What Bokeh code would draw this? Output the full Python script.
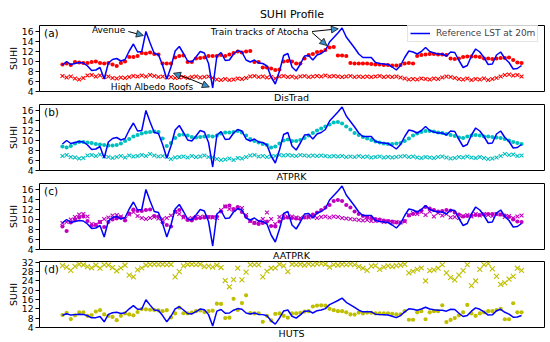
from bokeh.plotting import figure
from bokeh.layouts import column
from bokeh.models import Range1d, FixedTicker, Label, Arrow, NormalHead, Legend, LegendItem, Div
from bokeh.embed import file_html
from bokeh.resources import INLINE

# ---------------- data ----------------
ref_lst = [9.2, 9.9, 9.3, 9.5, 9.7, 9.6, 9.0, 8.1, 8.2, 8.7,
           6.4, 9.6, 10.3, 10.5, 10.0, 10.3, 12.0, 13.4, 11.8, 11.9,
           15.9, 13.6, 11.5, 11.3, 9.1, 6.4, 8.8, 12.0, 12.9, 11.5,
           10.0, 9.8, 10.8, 11.9, 11.6, 9.5, 4.6, 11.0, 11.7, 10.1,
           10.2, 11.4, 12.1, 11.8, 10.2, 9.8, 10.2, 9.6, 9.5, 9.0,
           6.8, 5.4, 8.0, 11.1, 11.5, 8.8, 8.0, 9.4, 11.0, 11.1,
           10.2, 11.2, 11.5, 12.1, 13.8, 14.7, 15.6, 16.6, 14.8, 13.7,
           12.6, 11.4, 10.7, 10.7, 10.7, 9.7, 9.5, 9.4, 9.3, 8.8,
           8.2, 9.1, 10.7, 12.0, 11.8, 11.4, 11.9, 12.7, 11.9, 11.6,
           11.4, 11.4, 11.0, 11.8, 11.7, 10.1, 8.7, 9.1, 11.0, 12.4,
           11.8, 10.7, 9.3, 9.4, 11.2, 11.8, 10.5, 9.7, 8.4, 8.5,
           9.1]

distrad_dots = [9.3, 9.5, 9.2, 9.8, 9.7, 9.6, 9.6, 9.8, 9.9, 9.6,
                9.5, 9.6, 9.3, 9.0, 9.6, 9.9, 10.8, 10.8, 11.0, 11.6,
                11.5, 11.7, 11.4, 11.3, 9.5, 9.5, 9.5, 10.7, 11.0, 11.1,
                9.8, 9.8, 10.5, 10.6, 10.7, 11.0, 11.0, 11.0, 11.2, 11.0,
                11.3, 11.6, 11.9, 11.7, 11.9, 12.0, 9.8, 9.8, 8.7, 8.7,
                8.5, 8.2, 8.3, 9.9, 10.0, 9.9, 9.5, 9.5, 10.5, 11.2,
                11.4, 11.8, 11.9, 12.2, 12.7, 12.8, 11.1, 11.1, 11.0, 9.6,
                9.5, 9.5, 9.5, 9.5, 9.4, 9.3, 9.3, 9.2, 9.2, 9.1,
                9.1, 9.2, 9.5, 9.6, 9.5, 11.0, 11.2, 11.3, 11.4, 11.4,
                11.3, 11.3, 11.2, 10.5, 10.4, 10.5, 10.8, 10.9, 10.9, 10.9,
                10.8, 10.5, 10.5, 10.4, 10.5, 10.6, 10.6, 10.7, 10.2, 9.7,
                9.6]

distrad_x = [7.0, 6.7, 6.9, 6.5, 6.3, 6.6, 7.1, 7.2, 6.9, 7.1,
             6.8, 6.9, 6.6, 6.5, 6.7, 6.6, 6.8, 7.0, 6.9, 7.1,
             6.9, 7.2, 7.0, 6.8, 6.9, 6.7, 6.8, 6.6, 6.7, 6.8,
             6.6, 6.8, 6.9, 6.7, 6.8, 6.9, 6.6, 6.3, 6.2, 6.4,
             6.2, 6.3, 6.5, 6.4, 6.6, 6.9, 7.0, 6.8, 6.9, 6.7,
             6.8, 6.5, 6.9, 7.0, 6.8, 6.9, 6.7, 6.9, 7.0, 6.8,
             6.9, 7.0, 6.9, 7.1, 6.9, 7.0, 6.9, 6.8, 6.9, 7.0,
             6.8, 6.9, 6.8, 6.9, 6.8, 6.9, 7.0, 6.8, 6.9, 6.8,
             6.9, 6.7, 6.5, 6.3, 6.4, 6.3, 6.5, 6.4, 6.3, 6.5,
             6.4, 6.7, 6.9, 6.8, 6.6, 6.4, 6.3, 6.5, 6.2, 6.4,
             6.3, 6.5, 6.2, 6.4, 6.6, 6.9, 7.2, 7.3, 7.1, 7.2,
             6.9]

atprk_dots = [8.7, 8.5, 8.8, 9.3, 9.6, 9.6, 9.5, 9.4, 9.2, 9.1,
              9.0, 8.9, 8.9, 9.0, 9.3, 9.8, 10.2, 10.7, 11.0, 11.3,
              11.5, 11.6, 11.7, 11.6, 10.3, 8.8, 9.4, 10.4, 11.0, 11.1,
              10.9, 10.6, 10.5, 10.6, 10.7, 10.8, 10.7, 10.9, 11.3, 11.5,
              11.5, 11.6, 11.8, 11.5, 10.9, 10.2, 9.8, 9.5, 9.2, 9.0,
              8.5, 8.7, 9.3, 9.9, 10.1, 9.8, 9.8, 10.0, 10.4, 10.9,
              11.4, 11.9, 12.3, 12.7, 13.1, 13.5, 13.6, 13.3, 12.7, 12.1,
              11.4, 11.0, 10.6, 10.3, 10.0, 9.7, 9.5, 9.3, 9.2, 9.2,
              9.3, 9.4, 9.8, 10.3, 10.9, 11.3, 11.6, 11.8, 11.8, 11.7,
              11.5, 11.4, 11.2, 11.0, 10.8, 10.5, 10.4, 10.7, 10.9, 11.0,
              10.9, 10.7, 10.7, 10.6, 10.5, 10.4, 10.2, 9.9, 9.6, 9.4,
              9.2]

atprk_x = [6.8, 7.0, 6.6, 6.5, 6.3, 6.4, 6.9, 7.0, 6.8, 7.1,
           6.7, 6.6, 6.4, 6.6, 6.8, 6.5, 6.9, 6.7, 6.8, 7.0,
           6.8, 7.2, 6.9, 6.7, 6.8, 6.6, 6.2, 6.5, 6.6, 6.7,
           6.5, 6.8, 6.6, 6.7, 6.9, 6.6, 6.5, 6.2, 6.0, 6.1,
           6.3, 6.0, 6.4, 6.3, 6.6, 6.9, 7.0, 6.7, 6.8, 6.6,
           6.7, 6.8, 7.0, 6.9, 7.0, 6.9, 6.8, 7.0, 6.9, 6.8,
           6.9, 6.8, 6.9, 6.8, 6.7, 6.8, 6.7, 6.8, 6.6, 6.7,
           6.6, 6.8, 6.6, 6.7, 6.5, 6.6, 6.7, 6.5, 6.6, 6.5,
           6.6, 6.7, 6.8, 6.6, 6.7, 6.5, 6.4, 6.6, 6.5, 6.4,
           6.6, 6.7, 6.5, 6.3, 6.4, 6.6, 6.5, 6.7, 6.5, 6.4,
           6.6, 6.4, 6.2, 6.3, 6.5, 6.8, 7.2, 7.0, 7.1, 6.8,
           6.9]

aatprk_dots = [8.5, 7.6, 9.3, 9.9, 10.3, 10.5, 9.6, 8.7, 8.8, 9.4,
               8.4, 9.4, 9.9, 10.1, 10.3, 9.7, 11.1, 11.9, 11.6, 11.6,
               11.8, 11.9, 10.6, 10.5, 9.3, 8.8, 8.5, 11.5, 11.8, 10.5,
               9.8, 9.7, 10.1, 10.2, 10.3, 10.4, 10.4, 10.5, 11.5, 12.5,
               12.7, 12.0, 12.4, 11.4, 10.5, 9.6, 9.2, 9.0, 9.2, 9.5,
               8.6, 8.5, 9.5, 10.2, 10.3, 10.2, 10.1, 10.0, 10.3, 10.5,
               10.9, 11.3, 11.8, 12.3, 12.8, 13.6, 13.8, 13.6, 12.8, 12.3,
               11.5, 11.0, 10.6, 10.4, 10.2, 10.0, 9.9, 9.7, 9.6, 9.5,
               9.3, 9.3, 9.6, 10.7, 11.0, 11.3, 11.7, 12.4, 12.1, 11.8,
               11.5, 11.6, 11.8, 11.7, 11.3, 10.9, 10.5, 10.6, 10.7, 10.8,
               10.8, 10.9, 11.0, 11.0, 11.0, 10.9, 10.7, 10.4, 9.9, 9.5,
               9.4]

aatprk_x = [9.2, 9.4, 9.9, 10.4, 10.9, 11.0, 10.5, 9.0, 8.9, 9.4,
            10.0, 10.3, 10.7, 10.8, 10.5, 10.0, 10.9, 11.4, 10.6, 10.2,
            10.0, 10.2, 10.4, 10.1, 10.0, 10.2, 10.7, 11.4, 11.0, 10.3,
            10.0, 10.2, 10.4, 10.4, 10.5, 10.4, 10.3, 10.2, 11.8, 12.5,
            12.0, 11.8, 12.1, 12.2, 10.8, 9.6, 9.3, 9.5, 10.0, 11.3,
            10.0, 9.0, 10.4, 10.6, 10.4, 10.5, 10.3, 10.2, 10.4, 10.3,
            10.5, 10.2, 10.4, 10.5, 10.3, 10.5, 10.4, 10.2, 10.1, 10.0,
            9.9, 9.8, 9.7, 9.8, 9.6, 9.6, 9.7, 9.4, 9.5, 9.3,
            9.4, 9.3, 9.5, 10.8, 11.2, 11.0, 11.4, 10.8, 11.5, 10.5,
            11.2, 10.7, 11.0, 10.3, 10.4, 10.2, 10.6, 10.8, 10.5, 11.0,
            10.7, 11.0, 10.8, 10.6, 11.0, 10.9, 10.4, 10.6, 10.2, 10.5,
            10.7]

huts_dots = [9.3, 10.3, 7.6, 9.2, 10.5, 10.5, 9.0, 9.3, 10.8, 11.4,
             9.6, 9.0, 8.5, 7.1, 9.0, 10.0, 9.6, 9.2, 10.6, 11.9,
             11.8, 11.6, 11.5, 11.3, 11.0, 11.4, 8.3, 10.0, 12.5, 10.1,
             10.0, 10.4, 11.0, 11.3, 10.6, 11.0, 11.2, 14.2, 14.1, 8.0,
             8.2, 16.3, 11.5, 14.5, 17.8, 10.2, 10.0, 10.1, 6.4, 9.0,
             7.0, 9.8, 10.0, 9.0, 8.2, 10.0, 10.0, 10.3, 10.8, 11.0,
             13.0, 13.4, 13.5, 13.4, 12.0, 11.4, 11.0, 11.0, 10.5, 9.6,
             9.5, 10.4, 10.0, 10.4, 10.3, 10.0, 10.0, 10.0, 10.1, 9.8,
             9.6, 9.6, 11.0, 7.3, 7.3, 10.5, 11.0, 7.5, 10.5, 11.0,
             11.0, 13.5, 6.3, 7.2, 8.0, 9.2, 10.5, 13.7, 10.0, 9.0,
             10.0, 10.5, 11.0, 11.0, 11.5, 12.0, 7.5, 7.5, 14.4, 10.5,
             10.5]

huts_x = [30.6, 30.0, 28.6, 30.3, 31.2, 30.9, 30.2, 29.7, 30.8, 29.5,
          31.0, 30.8, 29.8, 28.4, 29.6, 30.8, 26.5, 25.8, 28.8, 29.6,
          30.8, 31.1, 31.2, 31.1, 31.2, 31.0, 31.1, 25.8, 28.0, 30.5,
          31.1, 31.2, 31.0, 31.2, 30.2, 30.4, 30.0, 30.8, 29.8, 24.2,
          21.5, 24.6, 29.5, 24.5, 27.8, 31.0, 31.0, 31.0, 25.8, 28.2,
          29.5, 29.6, 31.2, 30.5, 28.0, 31.2, 31.0, 31.2, 30.8, 31.3,
          31.0, 31.4, 31.5, 31.2, 30.0, 31.0, 30.8, 31.2, 31.0, 31.3,
          31.0, 30.2, 29.5, 28.6, 30.4, 30.6, 29.0, 30.0, 30.5, 30.2,
          30.6, 30.8, 31.2, 27.5, 28.2, 29.0, 29.6, 24.0, 28.5, 28.8,
          29.5, 31.0, 27.5, 25.5, 24.5, 26.5, 28.5, 31.0, 22.0, 24.0,
          29.0, 31.0, 31.5, 29.2, 26.0, 22.5, 23.2, 24.8, 26.0, 29.5,
          28.6]

panel_names = ["DisTrad", "ATPRK", "AATPRK", "HUTS"]
panel_letters = ["(a)", "(b)", "(c)", "(d)"]
panel_colors = ["#ff0000", "#00bfbf", "#bf00bf", "#bfbf00"]
ticks_small = [4, 6, 8, 10, 12, 14, 16]
ticks_large = [4, 8, 12, 16, 20, 24, 28, 32]

FONT = "DejaVu Sans"
FRAME_H = 66
FRAME_W = 505
LEFT = 39
RIGHT = 5
X0, X1 = -5.5, 115.5


def idx(arr):
    return list(range(len(arr)))


def make_panel(k, dots, crosses, ylim, ticks, top_border, bottom_border, xsize):
    p = figure(frame_width=FRAME_W, frame_height=FRAME_H, output_backend="svg",
               toolbar_location=None, x_axis_location=None,
               x_range=Range1d(X0, X1), y_range=Range1d(*ylim),
               min_border_left=LEFT, min_border_right=RIGHT,
               min_border_top=top_border, min_border_bottom=bottom_border,
               background_fill_color="white", border_fill_alpha=0)
    p.grid.visible = False
    p.outline_line_color = "black"
    p.outline_line_width = 1
    p.outline_line_alpha = 1

    ya = p.yaxis[0]
    ya.ticker = FixedTicker(ticks=ticks)
    ya.axis_line_color = None
    ya.minor_tick_line_color = None
    ya.major_tick_in = 0
    ya.major_tick_out = 4
    ya.major_tick_line_color = "black"
    ya.major_label_standoff = 2
    ya.major_label_text_font = FONT
    ya.major_label_text_font_size = "9.2px"
    ya.major_label_text_color = "black"
    ya.axis_label = "SUHI"
    ya.axis_label_standoff = 0
    ya.axis_label_text_font = FONT
    ya.axis_label_text_font_size = "9.5px"
    ya.axis_label_text_font_style = "normal"
    ya.axis_label_text_color = "black"

    c = panel_colors[k]
    p.scatter(idx(crosses), crosses, marker="x", size=xsize, line_color=c,
              line_width=1.1)
    p.scatter(idx(dots), dots, marker="circle", size=4.2, fill_color=c,
              line_color=None)
    line_r = p.line(idx(ref_lst), ref_lst, line_color="#0000ff", line_width=1.5)

    per_px = (ylim[1] - ylim[0]) / FRAME_H
    p.add_layout(Label(x=-4.4, y=ylim[1] - 7.0 * per_px, text=panel_letters[k],
                       text_font=FONT, text_font_size="10.5px",
                       text_baseline="middle", text_color="black"))
    return p, line_r


def name_div(k, h, lh):
    return Div(text=panel_names[k], width=FRAME_W, height=h,
               margin=(0, RIGHT, 0, LEFT),
               styles={"font-family": FONT, "font-size": "9.5px",
                       "line-height": "%dpx" % lh, "text-align": "center",
                       "color": "black", "overflow": "visible",
                       "white-space": "nowrap"})


def ann_text(p, x, y, t):
    p.add_layout(Label(x=x, y=y, text=t, text_font=FONT, text_font_size="9px",
                       text_baseline="middle", text_color="black"))


def ann_arrow(p, x0, y0, x1, y1):
    p.add_layout(Arrow(end=NormalHead(size=7, fill_color="#3b8fc6",
                                      line_color="black", line_width=0.7),
                       x_start=x0, y_start=y0, x_end=x1, y_end=y1,
                       line_color="black", line_width=1))


p1, r1 = make_panel(0, distrad_dots, distrad_x, (3.9, 17.1), ticks_small, 24, 4, 5.5)
p2, _ = make_panel(1, atprk_dots, atprk_x, (3.9, 17.1), ticks_small, 0, 4, 5.5)
p3, _ = make_panel(2, aatprk_dots, aatprk_x, (3.9, 17.1), ticks_small, 0, 4, 5.5)
p4, _ = make_panel(3, huts_dots, huts_x, (3.95, 32.4), ticks_large, 3, 6, 7)

p1.title.text = "SUHI Profile"
p1.title.align = "center"
p1.title.text_font = FONT
p1.title.text_font_size = "11px"
p1.title.text_font_style = "normal"
p1.title.text_color = "black"
p1.title.standoff = 10
p1.title.offset = 0

# annotations in panel (a)
ann_text(p1, 7.05, 16.24, "Avenue")
ann_arrow(p1, 15.8, 15.9, 19.4, 15.1)
ann_text(p1, 35.56, 15.9, "Train tracks of Atocha")
ann_arrow(p1, 59.8, 15.9, 66.1, 16.44)
ann_arrow(p1, 59.8, 15.7, 63.35, 13.1)
ann_text(p1, 11.6, 4.76, "High Albedo Roofs")
ann_arrow(p1, 30.84, 6.3, 26.6, 7.56)
ann_arrow(p1, 30.84, 6.3, 35.2, 4.8)

legend = Legend(items=[LegendItem(label="Reference LST at 20m", renderers=[r1])],
                location=(368, 49), margin=0, padding=2, spacing=0,
                glyph_width=20, glyph_height=12, label_height=12,
                label_standoff=6, label_text_font=FONT,
                label_text_font_size="9px", border_line_color="#cccccc",
                border_line_width=1, background_fill_alpha=0.8)
p1.add_layout(legend)

# frame gaps: 13, 13, 12 px between the four panels
layout = column(p1, name_div(0, 9, 6), p2, name_div(1, 9, 6), p3,
                name_div(2, 5, 5), p4, name_div(3, 10, 2), spacing=0)
open("out.html", "w").write(file_html(layout, INLINE))
